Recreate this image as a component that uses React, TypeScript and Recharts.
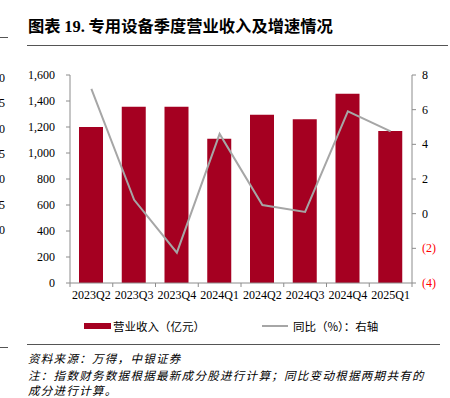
import React from 'react';
import {
  ComposedChart, Bar, Line, XAxis, YAxis, Legend,
} from 'recharts';

const quarters = ['2023Q2', '2023Q3', '2023Q4', '2024Q1', '2024Q2', '2024Q3', '2024Q4', '2025Q1'];
const revenue = [1200, 1355, 1355, 1110, 1295, 1260, 1455, 1170];
const yoy = [7.2, 0.8, -2.25, 4.6, 0.5, 0.1, 5.9, 4.75];
const leftTicks = [0, 200, 400, 600, 800, 1000, 1200, 1400, 1600];
const rightTicks = [-4, -2, 0, 2, 4, 6, 8];
const edgeDigits = ['0', '5', '0', '5', '0', '5', '0'];

const data = quarters.map((q, i) => ({ q, revenue: revenue[i], yoy: yoy[i] }));

const BAR = '#A50021';
const LINE = '#A6A6A6';
const AXIS = '#8C8C8C';
const SERIF = '"Liberation Serif", "Times New Roman", serif';
const CJK = '"Noto Sans CJK SC", sans-serif';
const W = 450;
const H = 398;
const LEFT_W = 70;
const RIGHT_W = 38;
const band = (W - LEFT_W - RIGHT_W) / quarters.length;

function XTick(props: any) {
  const { x, y, payload, index } = props;
  const ax = y - 6;
  return (
    <g>
      <line x1={x - band / 2} x2={x - band / 2} y1={ax} y2={ax + 4} stroke={AXIS} />
      {index === quarters.length - 1 && (
        <line x1={x + band / 2} x2={x + band / 2} y1={ax} y2={ax + 4} stroke={AXIS} />
      )}
      <text x={x} y={y + 10} textAnchor="middle" fontSize={12} fontFamily={SERIF} fill="#000">
        {payload.value}
      </text>
    </g>
  );
}

function RightTick(props: any) {
  const { x, y, payload } = props;
  const v = payload.value as number;
  const label = v < 0 ? `(${Math.abs(v)})` : String(v);
  return (
    <text x={x} y={y + 4} textAnchor="start" fontSize={12} fontFamily={SERIF} fill={v < 0 ? '#FF0000' : '#000'}>
      {label}
    </text>
  );
}

function LegendBox() {
  return (
    <div style={{ position: 'relative', height: 16, fontFamily: CJK, fontSize: 11.5, color: '#000' }}>
      <div style={{ position: 'absolute', left: 84, top: 5, width: 27, height: 6, background: BAR }} />
      <div style={{ position: 'absolute', left: 113, top: 0, lineHeight: '16px' }}>营业收入（亿元）</div>
      <div style={{ position: 'absolute', left: 262, top: 7, width: 26, height: 2, background: LINE }} />
      <div style={{ position: 'absolute', left: 293, top: 0, lineHeight: '16px' }}>同比（%）：右轴</div>
    </div>
  );
}

const noteStyle: React.CSSProperties = {
  position: 'absolute', left: 28, fontSize: 11.5, fontStyle: 'italic', fontFamily: CJK,
  letterSpacing: 1.3, whiteSpace: 'nowrap', lineHeight: '13px',
};

export default function App() {
  return (
    <div style={{ position: 'absolute', left: 0, top: 0, width: W, height: H, overflow: 'hidden', background: '#fff' }}>
      <div style={{ position: 'absolute', left: 28, top: 13, fontSize: 16.3, fontWeight: 'bold', fontFamily: CJK, whiteSpace: 'nowrap', color: '#000' }}>
        图表 <span style={{ fontFamily: SERIF, fontSize: 16.5 }}>19.</span> 专用设备季度营业收入及增速情况
      </div>
      <div style={{ position: 'absolute', left: 27, top: 45, width: 421, height: 1, background: '#555' }} />
      <div style={{ position: 'absolute', left: 0, top: 37, width: 8, height: 1, background: '#555' }} />
      {edgeDigits.map((d, i) => (
        <div key={i} style={{ position: 'absolute', left: -1, top: 71 + i * 25.3, fontSize: 12, fontFamily: SERIF }}>{d}</div>
      ))}

      <ComposedChart width={W} height={H} data={data} margin={{ top: 75, right: 0, left: 0, bottom: 82 }}>
        <XAxis
          dataKey="q"
          height={17}
          tickLine={false}
          tickSize={4}
          tickMargin={2}
          stroke={AXIS}
          interval={0}
          tick={<XTick />}
        />
        <YAxis
          yAxisId="left"
          orientation="left"
          width={LEFT_W}
          domain={[0, 1600]}
          ticks={leftTicks}
          tickFormatter={(v: number) => v.toLocaleString('en-US')}
          tickSize={4}
          tickMargin={11}
          stroke={AXIS}
          tick={{ fill: '#000', fontSize: 12, fontFamily: SERIF }}
          interval={0}
        />
        <YAxis
          yAxisId="right"
          orientation="right"
          width={RIGHT_W}
          domain={[-4, 8]}
          ticks={rightTicks}
          tickSize={4}
          tickMargin={6}
          stroke={AXIS}
          tick={<RightTick />}
          interval={0}
        />
        <Legend
          verticalAlign="bottom"
          wrapperStyle={{ position: 'absolute', left: 0, top: 318, width: W, height: 16 }}
          content={() => <LegendBox />}
        />
        <Bar yAxisId="left" dataKey="revenue" fill={BAR} barSize={24} isAnimationActive={false} />
        <Line yAxisId="right" dataKey="yoy" type="linear" stroke={LINE} strokeWidth={2} dot={false} activeDot={false} isAnimationActive={false} />
      </ComposedChart>

      <div style={{ position: 'absolute', left: 0, top: 347, width: 8, height: 1, background: '#555' }} />
      <div style={{ position: 'absolute', left: 27, top: 344, width: 413, height: 1, background: '#555' }} />
      <div style={{ ...noteStyle, top: 352 }}>资料来源：万得，中银证券</div>
      <div style={{ ...noteStyle, top: 369 }}>注：指数财务数据根据最新成分股进行计算；同比变动根据两期共有的</div>
      <div style={{ ...noteStyle, top: 384 }}>成分进行计算。</div>
    </div>
  );
}
